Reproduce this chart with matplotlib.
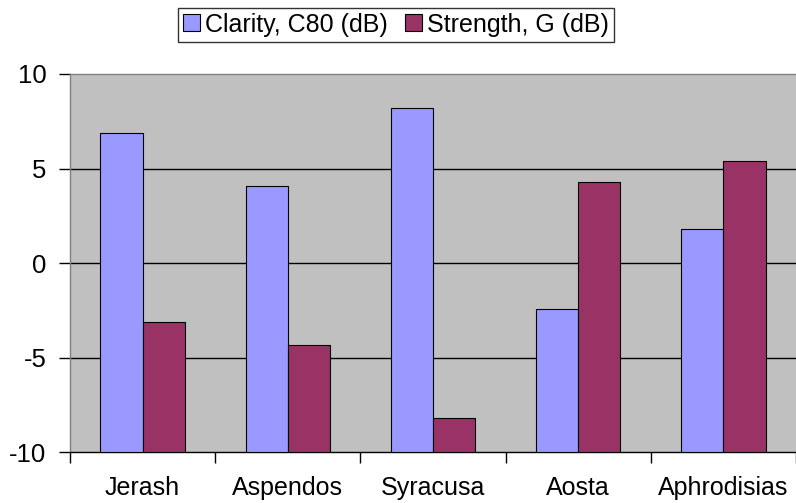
import numpy as np
import matplotlib.pyplot as plt

plt.rcParams['font.family'] = ['Liberation Sans', 'DejaVu Sans']

# Данные
sites = ['Jerash', 'Aspendos', 'Syracusa', 'Aosta', 'Aphrodisias']
clarity = [6.9, 4.1, 8.2, -2.4, 1.8]
strength = [-3.1, -4.3, -8.2, 4.3, 5.4]
y_ticks = [-10, -5, 0, 5, 10]
base = -10  # ось X пересекает Y на -10

fig = plt.figure(figsize=(7.96, 5.03), dpi=100)
ax = fig.add_axes([0.0879, 0.1004, 0.9121, 0.7525])
ax.set_facecolor('#C0C0C0')

x = np.arange(len(sites))
w = 0.29
ax.bar(x - w / 2, np.array(clarity) - base, w, bottom=base, color='#9999FF',
       edgecolor='black', linewidth=0.8, label='Clarity, C80 (dB)', zorder=3)
ax.bar(x + w / 2, np.array(strength) - base, w, bottom=base, color='#993366',
       edgecolor='black', linewidth=0.8, label='Strength, G (dB)', zorder=3)

ax.set_xlim(-0.5, len(sites) - 0.5)
ax.set_ylim(-10, 10)
ax.set_yticks(y_ticks)
ax.set_yticklabels([str(v) for v in y_ticks], fontsize=18.5)
ax.tick_params(axis='y', length=8, width=1, pad=9, color='black')

# границы категорий и подписи
ax.set_xticks(np.arange(len(sites) + 1) - 0.5)
ax.set_xticklabels([])
ax.set_xticks(x, minor=True)
ax.set_xticklabels(sites, minor=True, fontsize=18)
ax.tick_params(axis='x', which='major', length=8, width=1, color='black')
ax.tick_params(axis='x', which='minor', length=0, pad=17)

for v in [-5, 0, 5]:
    ax.axhline(v, color='black', linewidth=1, zorder=1)

ax.spines['left'].set_color('#808080')
ax.spines['top'].set_color('#808080')
ax.spines['bottom'].set_color('black')
ax.spines['right'].set_visible(False)
for s in ax.spines.values():
    s.set_linewidth(1)

leg = fig.legend(loc='center', bbox_to_anchor=(0.4975, 0.951), ncol=2,
                 fontsize=18, frameon=True, fancybox=False, edgecolor='black',
                 handlelength=0.68, handleheight=0.68, handletextpad=0.2,
                 columnspacing=0.68, borderpad=0.2, borderaxespad=0)
leg.get_frame().set_linewidth(1)

fig.savefig('out.png', dpi=100)
